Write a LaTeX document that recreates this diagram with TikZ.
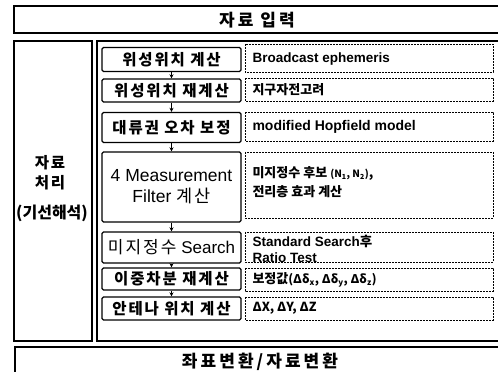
\documentclass[tikz,border=0pt]{standalone}
\usepackage{fontspec}
\setmainfont{Liberation Sans}
\newfontfamily\kr{Noto Sans CJK KR}
\newfontfamily\krwide{Noto Sans CJK KR}[LetterSpace=12]
\newfontfamily\krhead{Noto Sans CJK KR}[LetterSpace=18]
\usetikzlibrary{arrows.meta}
\tikzset{
  frame/.style={draw=black, line width=1.1pt},
  stepbox/.style={draw=black, line width=1.4pt, rounded corners=1.5pt},
  notebox/.style={draw=black, line width=0.9pt, dash pattern=on 2pt off 1pt},
  flow/.style={-{Stealth[length=4pt,width=4pt]}, line width=0.9pt},
  steptext/.style={font=\krwide\bfseries\fontsize{15.5}{17}\selectfont},
  notetext/.style={anchor=west, align=left, font=\bfseries\fontsize{13.5}{15}\selectfont},
  headtext/.style={font=\krhead\bfseries\fontsize{17}{19}\selectfont}
}
\begin{document}
\begin{tikzpicture}[x=1pt,y=-1pt]
\useasboundingbox (0,0) rectangle (498,372);
\clip (0,0) rectangle (498,372);
\fill[white] (0,0) rectangle (498,372);
% outer frames
\draw[frame] (14,6) rectangle (505,33);
\node[headtext] (input) at (257,20) {자료 입력};
\draw[frame] (14,41) rectangle (92,341);
\node[align=center, font=\krwide\bfseries\fontsize{15.5}{20}\selectfont] (proc) at (50,173) {자료\\처리};
\node[font=\kr\bfseries\fontsize{16}{18}\selectfont] (proc2) at (52,213) {(기선해석)};
\draw[frame] (97,41) rectangle (505,341);
\draw[frame] (15,347) rectangle (505,380);
\node[headtext] (conv) at (260,362) {좌표변환/자료변환};
% step boxes
\node[stepbox, steptext, minimum width=139pt, minimum height=24pt] (s1) at (171.5,59.5) {위성위치 계산};
\node[stepbox, steptext, minimum width=139pt, minimum height=23pt] (s2) at (171.5,90.5) {위성위치 재계산};
\node[stepbox, steptext, minimum width=139pt, minimum height=30pt] (s3) at (171.5,127.5) {대류권 오차 보정};
\node[stepbox, align=center, minimum width=139pt, minimum height=70pt, font=\fontsize{17.5}{21}\selectfont] (s4) at (171.5,187) {4 Measurement\\Filter {\krwide 계산}};
\node[stepbox, minimum width=139pt, minimum height=31pt, font=\fontsize{17}{19}\selectfont] (s5) at (171.5,247.5) {{\krwide 미지정수} Search};
\node[stepbox, steptext, minimum width=139pt, minimum height=22pt] (s6) at (171.5,279) {이중차분 재계산};
\node[stepbox, steptext, minimum width=139pt, minimum height=23pt] (s7) at (171.5,308.5) {안테나 위치 계산};
\foreach \a/\b in {s1/s2,s2/s3,s3/s4,s4/s5,s5/s6,s6/s7} \draw[flow] (\a) -- (\b);
% note boxes
\draw[notebox] (245,44) rectangle (493,72);
\node[notetext] (n1) at (249,59) {Broadcast ephemeris};
\draw[notebox] (245,78) rectangle (493,101);
\node[notetext, font=\kr\bfseries\fontsize{13}{15}\selectfont] (n2) at (249,90) {지구자전고려};
\draw[notebox] (245,112) rectangle (493,141);
\node[notetext, font=\fontsize{14}{16}\selectfont\bfseries] (n3) at (249,127) {modified Hopfield model};
\draw[notebox] (245,152) rectangle (493,218);
\node[notetext, font=\kr\bfseries\fontsize{13}{19}\selectfont] (n4) at (249,182) {미지정수 후보 {\fontsize{10}{12}\selectfont(N\textsubscript{1}, N\textsubscript{2})},\\전리층 효과 계산};
\draw[notebox] (245,232) rectangle (493,262);
\node[notetext, font=\bfseries\fontsize{13.5}{16}\selectfont] (n5) at (249,248.5) {Standard Search{\kr 후}\\Ratio Test};
\draw[notebox] (245,268) rectangle (493,291);
\node[notetext, font=\kr\bfseries\fontsize{13}{15}\selectfont] (n6) at (249,279.5) {보정값{\fontsize{12}{13}\selectfont(Δδ\textsubscript{x}, Δδ\textsubscript{y}, Δδ\textsubscript{z})}};
\draw[notebox] (245,297) rectangle (493,320);
\node[notetext, font=\kr\bfseries\fontsize{12.5}{14}\selectfont] (n7) at (249,308.5) {ΔX, ΔY, ΔZ};
\end{tikzpicture}
\end{document}
